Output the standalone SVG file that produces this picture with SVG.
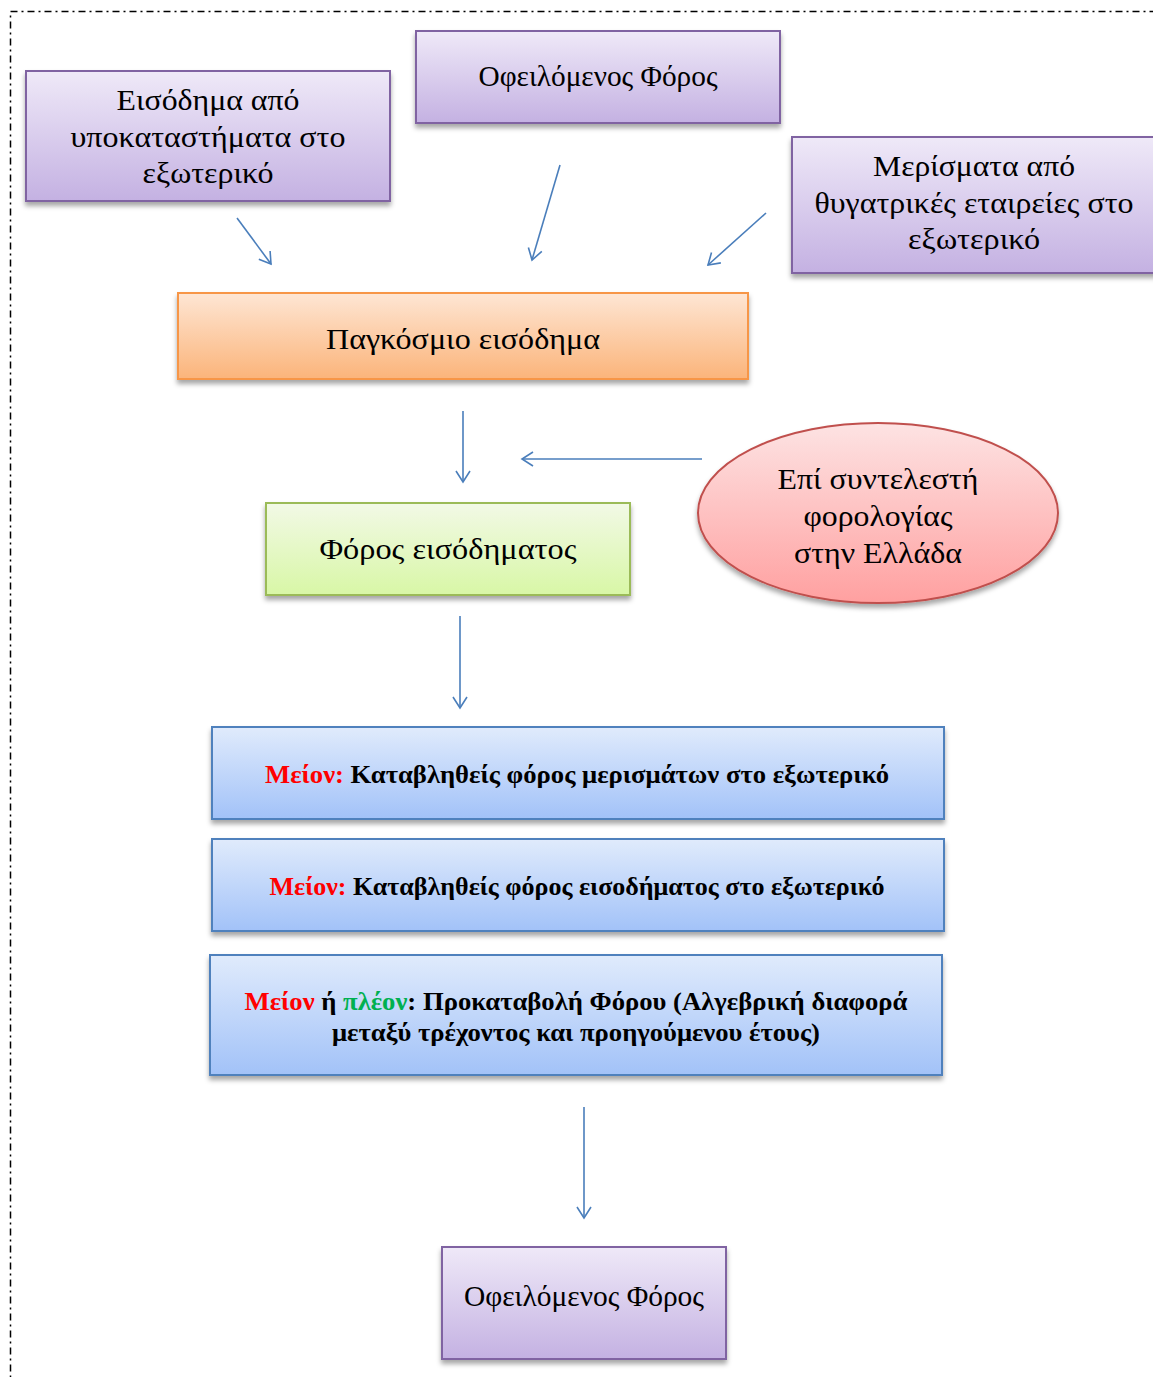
<svg xmlns="http://www.w3.org/2000/svg" width="1153" height="1377" viewBox="0 0 1153 1377">
<style>
.t{font-family:"Liberation Serif","Times New Roman",serif;font-size:30px;fill:#000;text-anchor:middle}
.b{font-family:"Liberation Serif","Times New Roman",serif;font-size:25px;font-weight:bold;fill:#000;text-anchor:middle}
.red{fill:#ff0000}
.grn{fill:#00b050}
.purple{fill:url(#gP);stroke:#8064a2;stroke-width:2}
.orange{fill:url(#gO);stroke:#f79646;stroke-width:2}
.green{fill:url(#gG);stroke:#9bbb59;stroke-width:2}
.pink{fill:url(#gR);stroke:#c0504d;stroke-width:2}
.blue{fill:url(#gB);stroke:#4f81bd;stroke-width:2}
.c{stroke:#4a7ebb;stroke-width:1.6;fill:none;marker-end:url(#arr)}
</style>
<defs>
<linearGradient id="gP" x1="0" y1="0" x2="0" y2="1"><stop offset="0" stop-color="#efe9f8"/><stop offset="1" stop-color="#c4b1e2"/></linearGradient>
<linearGradient id="gO" x1="0" y1="0" x2="0" y2="1"><stop offset="0" stop-color="#fee6d4"/><stop offset="1" stop-color="#fbb47a"/></linearGradient>
<linearGradient id="gG" x1="0" y1="0" x2="0" y2="1"><stop offset="0" stop-color="#f2f9e6"/><stop offset="1" stop-color="#d8f7a6"/></linearGradient>
<linearGradient id="gR" x1="0" y1="0" x2="0" y2="1"><stop offset="0" stop-color="#fde3e3"/><stop offset="1" stop-color="#ffa0a0"/></linearGradient>
<linearGradient id="gB" x1="0" y1="0" x2="0" y2="1"><stop offset="0" stop-color="#e0ebfc"/><stop offset="1" stop-color="#a2c2f8"/></linearGradient>
<filter id="sh" x="-5%" y="-10%" width="110%" height="130%"><feDropShadow dx="0" dy="4" stdDeviation="2.5" flood-color="#000" flood-opacity="0.35"/></filter>
<marker id="arr" markerWidth="16" markerHeight="16" viewBox="-12 -8 14 16" refX="0" refY="0" orient="auto" markerUnits="userSpaceOnUse"><path d="M-11,-7 L0,0 L-11,7" fill="none" stroke="#4a7ebb" stroke-width="1.6"/></marker>
</defs>
<rect x="10.5" y="11.5" width="1160" height="1390" fill="none" stroke="#000" stroke-width="1.5" stroke-dasharray="7 4 2 4"/>
<g id="connectors">
<line class="c" x1="237" y1="218" x2="271" y2="264"/>
<line class="c" x1="560" y1="165" x2="532" y2="260"/>
<line class="c" x1="766" y1="213" x2="708" y2="265"/>
<line class="c" x1="463" y1="411" x2="463" y2="482"/>
<line class="c" x1="702" y1="459" x2="522" y2="459"/>
<line class="c" x1="460" y1="616" x2="460" y2="708"/>
<line class="c" x1="584" y1="1107" x2="584" y2="1218"/>
</g>
<g id="n_branches">
<rect class="purple" x="26" y="71" width="364" height="130" filter="url(#sh)"/>
<text class="t" x="208" y="110" textLength="183" lengthAdjust="spacingAndGlyphs">Εισόδημα από</text>
<text class="t" x="208" y="147" textLength="275" lengthAdjust="spacingAndGlyphs">υποκαταστήματα στο</text>
<text class="t" x="208" y="183" textLength="131" lengthAdjust="spacingAndGlyphs">εξωτερικό</text>
</g>
<g id="n_owed_top">
<rect class="purple" x="416" y="31" width="364" height="92" filter="url(#sh)"/>
<text class="t" x="598" y="86" textLength="239" lengthAdjust="spacingAndGlyphs">Οφειλόμενος Φόρος</text>
</g>
<g id="n_dividends">
<rect class="purple" x="792" y="137" width="370" height="136" filter="url(#sh)"/>
<text class="t" x="974" y="176" textLength="202" lengthAdjust="spacingAndGlyphs">Μερίσματα από</text>
<text class="t" x="974" y="213" textLength="319" lengthAdjust="spacingAndGlyphs">θυγατρικές εταιρείες στο</text>
<text class="t" x="974" y="249" textLength="132" lengthAdjust="spacingAndGlyphs">εξωτερικό</text>
</g>
<g id="n_global">
<rect class="orange" x="178" y="293" width="570" height="86" filter="url(#sh)"/>
<text class="t" x="463" y="349" textLength="274" lengthAdjust="spacingAndGlyphs">Παγκόσμιο εισόδημα</text>
</g>
<g id="n_incometax">
<rect class="green" x="266" y="503" width="364" height="92" filter="url(#sh)"/>
<text class="t" x="448" y="559" textLength="257" lengthAdjust="spacingAndGlyphs">Φόρος εισόδηματος</text>
</g>
<g id="n_rate">
<ellipse class="pink" cx="878" cy="513" rx="180" ry="90" filter="url(#sh)"/>
<text class="t" x="878" y="489" textLength="201" lengthAdjust="spacingAndGlyphs">Επί συντελεστή</text>
<text class="t" x="878" y="526" textLength="149" lengthAdjust="spacingAndGlyphs">φορολογίας</text>
<text class="t" x="878" y="563" textLength="168" lengthAdjust="spacingAndGlyphs">στην Ελλάδα</text>
</g>
<g id="n_minus1">
<rect class="blue" x="212" y="727" width="732" height="92" filter="url(#sh)"/>
<text class="b" x="577" y="783" textLength="624" lengthAdjust="spacingAndGlyphs"><tspan class="red">Μείον:</tspan> Καταβληθείς φόρος μερισμάτων στο εξωτερικό</text>
</g>
<g id="n_minus2">
<rect class="blue" x="212" y="839" width="732" height="92" filter="url(#sh)"/>
<text class="b" x="577" y="895" textLength="615" lengthAdjust="spacingAndGlyphs"><tspan class="red">Μείον:</tspan> Καταβληθείς φόρος εισοδήματος στο εξωτερικό</text>
</g>
<g id="n_prepay">
<rect class="blue" x="210" y="955" width="732" height="120" filter="url(#sh)"/>
<text class="b" x="576" y="1010" textLength="663" lengthAdjust="spacingAndGlyphs"><tspan class="red">Μείον</tspan> ή <tspan class="grn">πλέον</tspan>: Προκαταβολή Φόρου (Αλγεβρική διαφορά</text>
<text class="b" x="576" y="1041" textLength="488" lengthAdjust="spacingAndGlyphs">μεταξύ τρέχοντος και προηγούμενου έτους)</text>
</g>
<g id="n_owed_bottom">
<rect class="purple" x="442" y="1247" width="284" height="112" filter="url(#sh)"/>
<text class="t" x="584" y="1306" textLength="240" lengthAdjust="spacingAndGlyphs">Οφειλόμενος Φόρος</text>
</g>
</svg>
